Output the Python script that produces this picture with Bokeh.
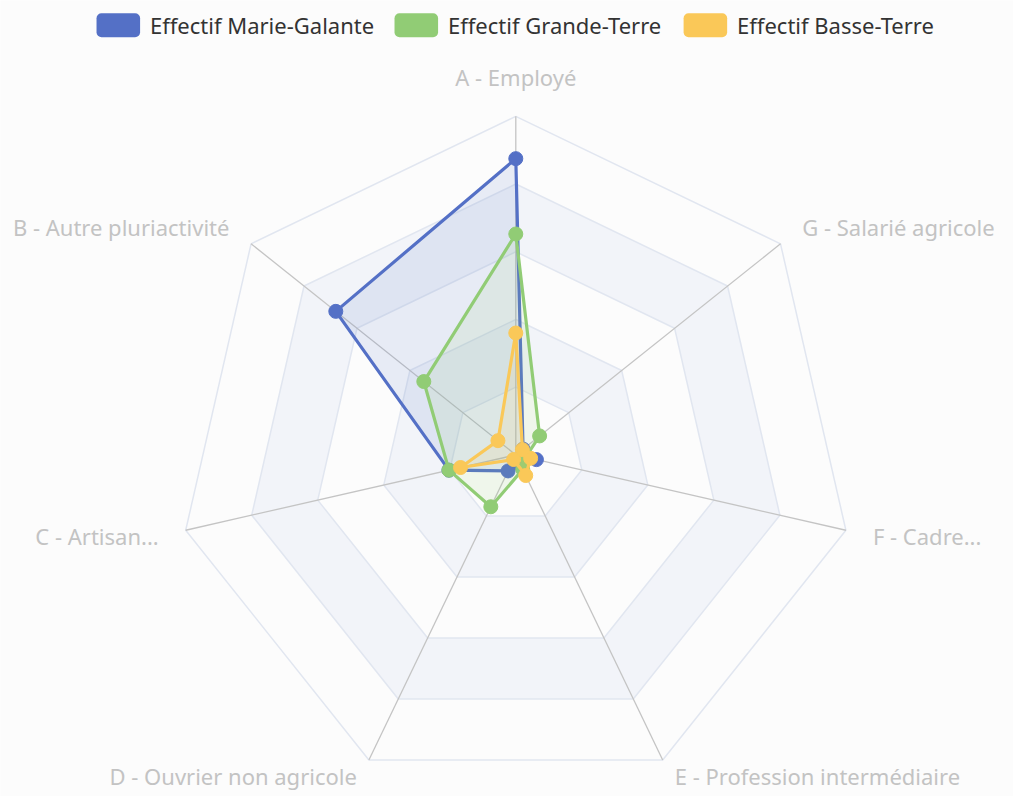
import numpy as np
from bokeh.plotting import figure
from bokeh.models import Range1d
from bokeh.embed import file_html
from bokeh.resources import INLINE
from bokeh.core.properties import value

# ---------------- data ----------------
categories = ["A - Employé", "B - Autre pluriactivité", "C - Artisan...",
              "D - Ouvrier non agricole", "E - Profession intermédiaire",
              "F - Cadre...", "G - Salarié agricole"]
series_names = ["Effectif Marie-Galante", "Effectif Grande-Terre", "Effectif Basse-Terre"]
marie_galante = [350, 272, 81, 21, 14, 25, 11]
grande_terre = [261, 139, 81, 68, 19, 12, 36]
basse_terre = [144, 27, 67, 6, 27, 18, 10]
max_value = 400
n_rings = 5

colors = ["#5470c6", "#91cc75", "#fac858"]
series_values = [marie_galante, grande_terre, basse_terre]

# ---------------- geometry (reference pixels, scaled to figure) ----------------
W, H = 1013, 796
S = 0.990
CX, CY = 520.5 * S, 459.0 * S
R = 342.0 * S

def sx(px):
    return (px * S - CX) / R

def sy(py):
    return (CY - py * S) / R

n = len(categories)
theta = np.pi / 2 + np.arange(n) * 2 * np.pi / n
ux, uy = np.cos(theta), np.sin(theta)

p = figure(width=W, height=H, output_backend="svg", toolbar_location=None,
           x_range=Range1d(-CX / R, (W - CX) / R), y_range=Range1d((CY - H) / R, CY / R),
           min_border=0, border_fill_color="#fcfcfc", background_fill_color="#fcfcfc")
p.axis.visible = False
p.grid.visible = False
p.outline_line_color = None

BG = "#fcfcfc"
SHADE = "#f2f4f9"
SPLIT = "#e1e6f0"

# split areas (outer to inner)
for k in range(n_rings, 0, -1):
    f = k / n_rings
    col = SHADE if k % 2 == 0 else BG
    p.patch(list(ux * f), list(uy * f), fill_color=col, line_color=None)
# split lines
for k in range(1, n_rings + 1):
    f = k / n_rings
    p.line(list(np.append(ux, ux[0]) * f), list(np.append(uy, uy[0]) * f),
           line_color=SPLIT, line_width=1.5)
# axis lines
for i in range(n):
    p.line([0, ux[i]], [0, uy[i]], line_color="#c4c4c4", line_width=1.3)

# series
for vals, col in zip(series_values, colors):
    r = np.array(vals) / max_value
    xs, ys = ux * r, uy * r
    p.patch(list(xs), list(ys), fill_color=col, fill_alpha=0.12, line_color=None)
    p.line(list(np.append(xs, xs[0])), list(np.append(ys, ys[0])), line_color=col, line_width=3.2)
    p.scatter(list(xs), list(ys), size=14, fill_color=col, line_color=col)

# indicator names
LABEL_COLOR = "#c3c3c3"
name_r = 370.0 / 342.0
for i, name in enumerate(categories):
    x, y = ux[i] * name_r, uy[i] * name_r
    if abs(ux[i]) < 1e-6:
        align = "center"
        y = sy(77)
    elif ux[i] > 0:
        align = "left"
    else:
        align = "right"
    if uy[i] < -0.8:
        y = sy(783)
    p.text(x=[x], y=[y], text=[name], text_align=align, text_baseline="middle",
           text_color=LABEL_COLOR, text_font=value("Noto Sans"), text_font_size="22px")

# legend (manual, top)
icon_left = [97, 398, 690]
for name, col, lx in zip(series_names, colors, icon_left):
    p.quad(left=[sx(lx)], right=[sx(lx + 44)], top=[sy(13)], bottom=[sy(37)],
           fill_color=col, line_color=None, border_radius=5)
    p.text(x=[sx(lx + 54)], y=[sy(25)], text=[name], text_align="left", text_baseline="middle",
           text_color="#333333", text_font=value("Noto Sans"), text_font_size="22px")

open("out.html", "w").write(file_html(p, INLINE))
